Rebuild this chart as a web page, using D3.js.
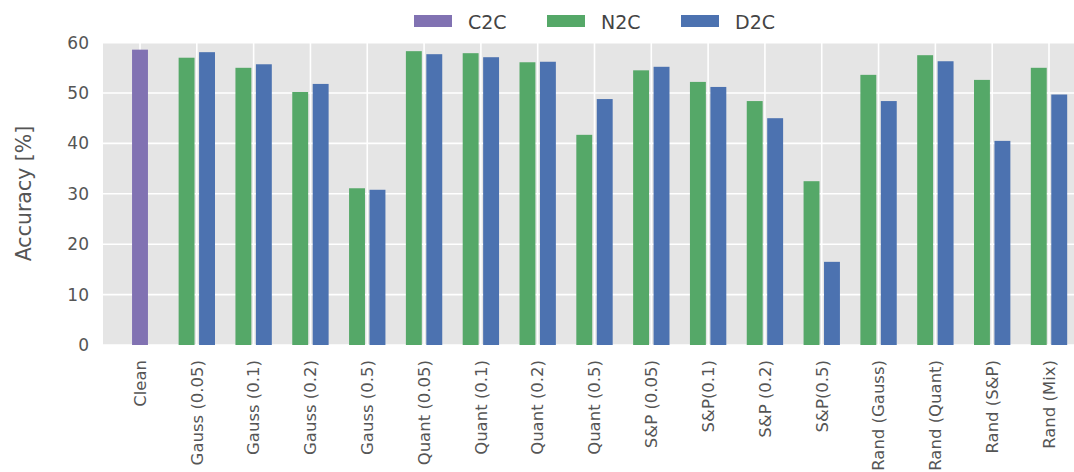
<!DOCTYPE html>
<html>
<head>
<meta charset="utf-8">
<script src="https://cdn.jsdelivr.net/npm/d3@7"></script>
<style>
  html, body { margin: 0; padding: 0; background: #fff; }
  svg { display: block; font-family: "DejaVu Sans", sans-serif; }
</style>
</head>
<body>
<svg id="chart" width="1074" height="472"></svg>
<script>
// Accuracy per corruption setting
const categories = [
  "Clean", "Gauss (0.05)", "Gauss (0.1)", "Gauss (0.2)", "Gauss (0.5)",
  "Quant (0.05)", "Quant (0.1)", "Quant (0.2)", "Quant (0.5)",
  "S&P (0.05)", "S&P(0.1)", "S&P (0.2)", "S&P(0.5)",
  "Rand (Gauss)", "Rand (Quant)", "Rand (S&P)", "Rand (Mix)"
];
const seriesNames = ["C2C", "N2C", "D2C"];
// C2C only exists for the clean setting
const c2c = [58.6];
const n2c = [null, 57.0, 55.0, 50.2, 31.1, 58.3, 57.9, 56.1, 41.7, 54.5, 52.2, 48.4, 32.5, 53.6, 57.5, 52.6, 55.0];
const d2c = [null, 58.1, 55.7, 51.8, 30.8, 57.7, 57.1, 56.2, 48.8, 55.2, 51.2, 45.0, 16.5, 48.4, 56.3, 40.5, 49.7];
const yTicks = [0, 10, 20, 30, 40, 50, 60];

const colors = { C2C: "#8172B2", N2C: "#55A868", D2C: "#4C72B0" };
const FONT = "DejaVu Sans, sans-serif";

const svg = d3.select("#chart");
const plot = { left: 103, right: 1086, top: 42.6, bottom: 345 };

const x = d3.scalePoint().domain(categories).range([140, 1049]);
const step = x.step();
const y = d3.scaleLinear().domain([0, 60]).range([plot.bottom, plot.top]);

// panel background
svg.append("rect")
  .attr("x", plot.left).attr("y", plot.top)
  .attr("width", plot.right - plot.left).attr("height", plot.bottom - plot.top)
  .attr("fill", "#E5E5E5");

// grid
const grid = svg.append("g").attr("stroke", "#fff").attr("stroke-width", 1.6);
grid.selectAll("line.h").data(yTicks).join("line")
  .attr("x1", plot.left).attr("x2", plot.right)
  .attr("y1", d => y(d)).attr("y2", d => y(d));
grid.selectAll("line.v").data(categories).join("line")
  .attr("x1", d => x(d)).attr("x2", d => x(d))
  .attr("y1", plot.top).attr("y2", plot.bottom);

// bars
const bw = step * 0.28, off = step * 0.18;
const bars = [];
c2c.forEach((v, i) => bars.push({ cat: categories[i], v, s: "C2C", dx: 0 }));
n2c.forEach((v, i) => { if (v != null) bars.push({ cat: categories[i], v, s: "N2C", dx: -off }); });
d2c.forEach((v, i) => { if (v != null) bars.push({ cat: categories[i], v, s: "D2C", dx: off }); });

svg.append("g").selectAll("rect").data(bars).join("rect")
  .attr("x", d => x(d.cat) + d.dx - bw / 2)
  .attr("width", bw)
  .attr("y", d => y(d.v))
  .attr("height", d => y(0) - y(d.v))
  .attr("fill", d => colors[d.s]);

// y axis
const yAxis = svg.append("g")
  .attr("transform", `translate(${plot.left},0)`)
  .call(d3.axisLeft(y).tickValues(yTicks).tickSize(0).tickPadding(14))
  .attr("font-family", FONT)
  .attr("font-size", 17);
yAxis.select(".domain").remove();
yAxis.selectAll("text").attr("fill", "#555");

// x axis
const xAxis = svg.append("g")
  .attr("transform", `translate(0,${plot.bottom})`)
  .call(d3.axisBottom(x).tickSize(0))
  .attr("font-family", FONT)
  .attr("font-size", 16.5);
xAxis.select(".domain").remove();
xAxis.selectAll("text")
  .attr("fill", "#555")
  .attr("text-anchor", "end")
  .attr("transform", "rotate(-90)")
  .attr("x", -15)
  .attr("y", 0)
  .attr("dy", "0.32em");

// y label
svg.append("text")
  .attr("transform", "translate(30.5,193.5) rotate(-90)")
  .attr("text-anchor", "middle")
  .attr("fill", "#555")
  .attr("font-family", FONT)
  .attr("font-size", 20.5)
  .text("Accuracy [%]");

// legend
const legendX = [414, 547, 681];
const legend = svg.append("g")
  .attr("font-family", FONT)
  .attr("font-size", 19)
  .selectAll("g").data(seriesNames).join("g")
  .attr("transform", (d, i) => `translate(${legendX[i]},15)`);
legend.append("rect").attr("width", 38).attr("height", 12).attr("fill", d => colors[d]);
legend.append("text")
  .attr("x", 54).attr("y", 14)
  .attr("fill", "#444")
  .text(d => d);
</script>
</body>
</html>
